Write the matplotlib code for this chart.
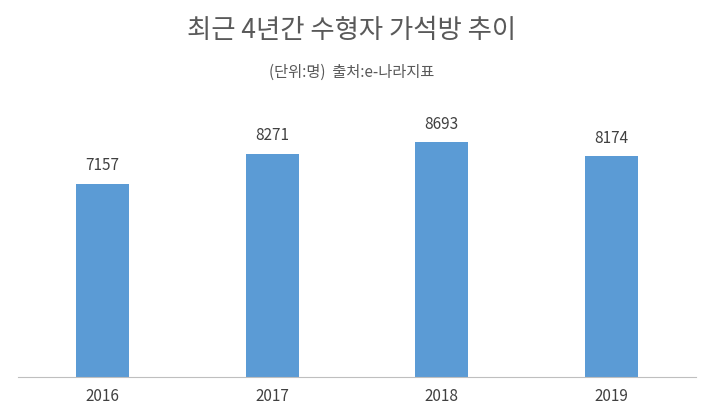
import matplotlib
matplotlib.use("Agg")
import matplotlib.pyplot as plt

plt.rcParams['font.family'] = ['Noto Sans CJK KR', 'DejaVu Sans']

years = ['2016', '2017', '2018', '2019']
values = [7157, 8271, 8693, 8174]

fig = plt.figure(figsize=(7.04, 4.18), dpi=100)
ax = fig.add_axes([18/704, 41/418, 678/704, 270/418])
x = range(len(years))
bars = ax.bar(x, values, width=0.31, color='#5b9bd5')
for xi, v in zip(x, values):
    ax.text(xi, v + 350, str(v), ha='center', va='bottom', fontsize=11, color='#404040')
ax.set_xlim(-0.5, 3.5)
ax.set_ylim(0, 10000)
ax.set_xticks(list(x))
ax.set_xticklabels(years, fontsize=11, color='#404040')
ax.tick_params(axis='x', length=0, pad=8)
ax.set_yticks([])
for s in ['top', 'right', 'left']:
    ax.spines[s].set_visible(False)
ax.spines['bottom'].set_color('#bfbfbf')

fig.text(0.5, 1 - 30/418, '최근 4년간 수형자 가석방 추이', ha='center', va='center', fontsize=19, color='#595959')
fig.text(0.5, 1 - 72/418, '(단위:명)  출처:e-나라지표', ha='center', va='center', fontsize=11, color='#595959')
fig.savefig('out.png', dpi=100)
